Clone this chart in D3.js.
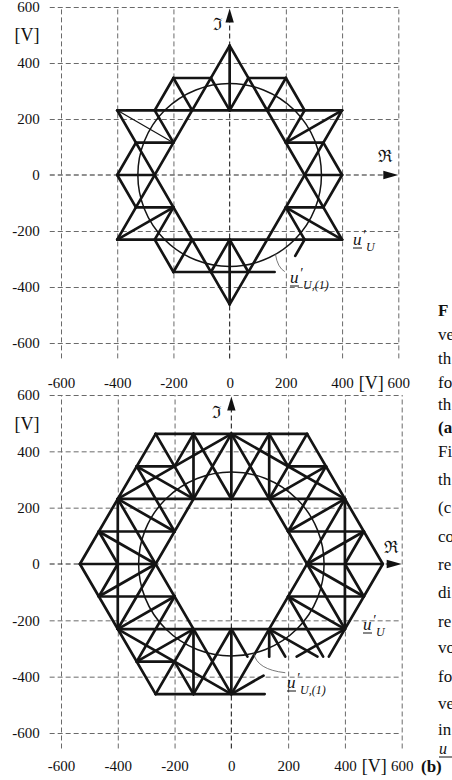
<!DOCTYPE html>
<html>
<head>
<meta charset="utf-8">
<script src="https://cdn.jsdelivr.net/npm/d3@7"></script>
<style>
  html, body { margin: 0; padding: 0; background: #fff; }
  svg { display: block; }
</style>
</head>
<body>
<svg id="fig" width="452" height="780"></svg>
<script>
// ---------------------------------------------------------------
// Axis ticks (V)
const reTicks = [-600, -400, -200, 0, 200, 400, 600];
const imTicks = [-600, -400, -200, 0, 200, 400, 600];

// Voltage steps of the inverter's space-vector lattice (V)
const stepRe = 200 / 3;
const stepIm = 200 / Math.sqrt(3);

// Amplitude of the fundamental u'_U,(1) (V)
const fundamentalAmp = 326.6;

// Trajectory segments, [re1, im1, re2, im2] in lattice steps
// (a) star-shaped trajectory
const starLines = [
  [0, 4, -6, -2], [0, 4, 6, -2], [-6, -2, 6, -2],
  [0, -4, -6, 2], [0, -4, 6, 2], [-6, 2, 6, 2]
];
const aMedians = [
  [0, 4, 0, 2], [-6, -2, -3, -1], [0, -4, 0, -2], [6, -2, 3, -1], [6, 2, 3, 1]
];
const aStartSegment = [[-6, 2, -3, 1]];
const aTipV = [
  [-1, 3, 0, 2], [1, 3, 0, 2], [-5, 1, -3, 1], [-4, 2, -3, 1],
  [-4, -2, -3, -1], [-5, -1, -3, -1], [1, -3, 0, -2], [-1, -3, 0, -2],
  [5, -1, 3, -1], [4, -2, 3, -1], [4, 2, 3, 1], [5, 1, 3, 1]
];
const aBridges = [
  [3, 3, 1, 3], [3, 3, 2, 2], [3, 3, 4, 2],
  [-3, 3, -4, 2], [-3, 3, -2, 2], [-3, 3, -1, 3],
  [-6, 0, -5, -1], [-6, 0, -4, 0], [-6, 0, -5, 1],
  [-3, -3, -1, -3], [-3, -3, -2, -2], [-3, -3, -4, -2],
  [6, 0, 5, 1], [6, 0, 4, 0], [6, 0, 5, -1]
];
const aLastSegments = [[-1, -3, 2.4, -3], [4, -2, 3.5, -2.5]];

// (b) hexagon-shaped trajectory
const bOuterHex = [
  [-4, 4, 4, 4], [4, 4, 8, 0], [-4, -4, -8, 0], [-8, 0, -4, 4]
];
const bInnerHex = [
  [0, 4, 6, 2], [6, 2, 6, -2], [0, -4, -6, -2], [-6, -2, -6, 2], [-6, 2, 0, 4]
];
const bMedians = [
  [0, 4, 0, 2], [-6, 2, -3, 1], [-6, -2, -3, -1], [0, -4, 0, -2], [6, -2, 3, -1], [6, 2, 3, 1]
];
const bLongSteps = [
  [2, 4, 2, 2], [-2, 4, -2, 2], [-5, 3, -2, 2], [-7, 1, -4, 0], [-7, -1, -4, 0],
  [-5, -3, -2, -2], [-2, -4, -2, -2], [7, -1, 4, 0], [7, 1, 4, 0], [5, 3, 2, 2]
];
const bCrossSteps = [
  [-2, 4, 0, 2], [2, 4, 0, 2], [-7, 1, -3, 1], [-5, 3, -3, 1], [-5, -3, -3, -1],
  [-7, -1, -3, -1], [-2, -4, 0, -2], [7, -1, 3, -1], [5, 3, 3, 1], [7, 1, 3, 1]
];
const bCornerSteps = [
  [4, 4, 2, 2], [-4, 4, -2, 2], [-8, 0, -4, 0], [-4, -4, -2, -2], [8, 0, 4, 0]
];
const bEdgeSteps = [
  [3, 3, 5, 3], [-5, 3, -3, 3], [-3, 3, -2, 4], [2, 4, 3, 3], [-7, -1, -6, 0],
  [-6, 0, -7, 1], [-3, -3, -2, -4], [-3, -3, -5, -3], [7, 1, 6, 0], [6, 0, 7, -1]
];
const bLastSegments = [
  [8, 0, 5.15, -2.85], [-4, -4, 1.76, -4], [6, -2, 3.45, -2.85], [0, -4, 1.7, -3.43],
  [2, -2, 2, -2.85], [2, -2, 4.55, -2.85], [0, -2, 0.85, -2.85], [3, -1, 4.85, -2.85],
  [2, -2, 2.85, -2.85]
];

// Caption lines in the right margin
const captionLines = [
  { t: "F", y: 316, b: true }, { t: "ve", y: 340 }, { t: "th", y: 364 }, { t: "fo", y: 388 },
  { t: "th", y: 410 }, { t: "(a", y: 433, b: true }, { t: "Fi", y: 457 }, { t: "th", y: 485 },
  { t: "(c", y: 513 }, { t: "co", y: 542 }, { t: "re", y: 570 }, { t: "di", y: 598 },
  { t: "re", y: 627 }, { t: "vo", y: 653 }, { t: "fo", y: 682 }, { t: "ve", y: 709 },
  { t: "in", y: 735 }
];

// ---------------------------------------------------------------
const svg = d3.select("#fig");
const SERIF = "'Liberation Serif', 'Times New Roman', serif";
const INK = "#141414";

const panels = [
  {
    xr: [61, 398.3], yr: [343, 7],
    thin: aStartSegment,
    thick: [].concat(starLines, aMedians, aTipV, aBridges, aLastSegments),
    xLabelY: 388, vLabelY: 41,
    imSym: [223, 30], reSym: [392, 162],
    uLabel: { x: 353, y: 245 }, u1Label: { x: 290, y: 283 },
    leader: [[163, -283], [170, -330], [196, -345]]
  },
  {
    xr: [61, 401.7], yr: [733, 395],
    thin: [],
    thick: [].concat(starLines, bOuterHex, bInnerHex, bMedians, bLongSteps,
                     bCrossSteps, bCornerSteps, bEdgeSteps, bLastSegments),
    xLabelY: 771, vLabelY: 430,
    imSym: [222, 418], reSym: [398, 553],
    uLabel: { x: 363, y: 630 }, u1Label: { x: 287, y: 688 },
    leader: [[79, -317], [90, -375], [190, -386]]
  }
];

panels.forEach(p => {
  const x = d3.scaleLinear().domain([-600, 600]).range(p.xr);
  const y = d3.scaleLinear().domain([-600, 600]).range(p.yr);
  const g = svg.append("g");

  // dashed grid with tick labels
  const gx = g.append("g")
    .attr("transform", `translate(0,${y(-655)})`)
    .call(d3.axisBottom(x).tickValues(reTicks)
      .tickSize(-(y(-655) - y(600)))
      .tickPadding(p.xLabelY - y(-655) - 11)
      .tickFormat(d => String(d)));
  const gy = g.append("g")
    .attr("transform", `translate(${x(-640)},0)`)
    .call(d3.axisLeft(y).tickValues(imTicks)
      .tickSize(-(x(600) - x(-640)))
      .tickPadding(10)
      .tickFormat(d => String(d)));
  [gx, gy].forEach(a => {
    a.select(".domain").remove();
    a.attr("font-family", SERIF).attr("font-size", 15);
    a.selectAll(".tick line")
      .attr("stroke", "#6a6a6a").attr("stroke-width", 1)
      .attr("stroke-dasharray", "5,3");
    a.selectAll(".tick text").attr("fill", "#111");
    a.selectAll(".tick").filter(d => d === 0).select("line").remove();
  });

  // unit labels
  g.append("text").attr("x", 27).attr("y", p.vLabelY)
    .attr("text-anchor", "middle").attr("font-family", SERIF).attr("font-size", 18)
    .attr("fill", "#111").text("[V]");
  g.append("text").attr("x", (x(400) + x(600)) / 2 + 1).attr("y", p.xLabelY + 1)
    .attr("text-anchor", "middle").attr("font-family", SERIF).attr("font-size", 18)
    .attr("fill", "#111").text("[V]");

  // real and imaginary axes with arrows
  const axisStyle = s => s.attr("stroke", "#222").attr("stroke-width", 1.1).attr("stroke-dasharray", "5,3");
  g.append("line").attr("x1", x(0)).attr("x2", x(0)).attr("y1", y(-655)).attr("y2", y(560)).call(axisStyle);
  g.append("line").attr("x1", x(-640)).attr("x2", x(560)).attr("y1", y(0)).attr("y2", y(0)).call(axisStyle);
  const tipY = y(595), tipX = x(600);
  g.append("path").attr("fill", "#111")
    .attr("d", `M${x(0)},${tipY} L${x(0) - 4.2},${tipY + 14} L${x(0) + 4.2},${tipY + 14} Z`);
  g.append("path").attr("fill", "#111")
    .attr("d", `M${tipX},${y(0)} L${tipX - 15},${y(0) - 4.2} L${tipX - 15},${y(0) + 4.2} Z`);
  g.append("text").attr("x", p.imSym[0]).attr("y", p.imSym[1]).attr("text-anchor", "end")
    .attr("font-family", "'DejaVu Serif', serif").attr("font-size", 17).attr("fill", "#111").text("\u2111");
  g.append("text").attr("x", p.reSym[0]).attr("y", p.reSym[1]).attr("text-anchor", "end")
    .attr("font-family", "'DejaVu Serif', serif").attr("font-size", 17).attr("fill", "#111").text("\u211C");

  // fundamental component
  g.append("ellipse")
    .attr("cx", x(0)).attr("cy", y(0))
    .attr("rx", x(fundamentalAmp) - x(0)).attr("ry", y(0) - y(fundamentalAmp))
    .attr("fill", "none").attr("stroke", INK).attr("stroke-width", 1.5);

  // trajectory of the phase-voltage space vector
  const seg = (sel, w) => sel
    .attr("x1", d => x(d[0] * stepRe)).attr("y1", d => y(d[1] * stepIm))
    .attr("x2", d => x(d[2] * stepRe)).attr("y2", d => y(d[3] * stepIm))
    .attr("stroke", INK).attr("stroke-width", w).attr("stroke-linecap", "round");
  g.append("g").selectAll("line").data(p.thin).join("line").call(seg, 1.2);
  g.append("g").selectAll("line").data(p.thick).join("line").call(seg, 2.7);

  // leader line to the fundamental label
  const L = p.leader;
  g.append("path").attr("fill", "none").attr("stroke", "#555").attr("stroke-width", 0.8)
    .attr("d", `M${x(L[0][0])},${y(L[0][1])} Q${x(L[1][0])},${y(L[1][1])} ${x(L[2][0])},${y(L[2][1])}`);

  // vector labels
  const vecLabel = (pos, sub) => {
    const t = g.append("g").attr("font-family", SERIF).attr("fill", "#111");
    t.append("text").attr("x", pos.x).attr("y", pos.y).attr("font-size", 17)
      .attr("font-style", "italic").text("u");
    t.append("line").attr("x1", pos.x).attr("x2", pos.x + 9).attr("y1", pos.y + 3).attr("y2", pos.y + 3)
      .attr("stroke", "#111").attr("stroke-width", 1);
    t.append("text").attr("x", pos.x + 9.5).attr("y", pos.y - 5).attr("font-size", 14)
      .attr("font-style", "italic").text("\u2032");
    t.append("text").attr("x", pos.x + 13).attr("y", pos.y + 6).attr("font-size", 12)
      .attr("font-style", "italic").text(sub);
  };
  vecLabel(p.uLabel, "U");
  vecLabel(p.u1Label, "U,(1)");
});

// right-margin caption fragment
const cap = svg.append("g").attr("font-family", SERIF).attr("font-size", 17).attr("fill", "#111");
cap.selectAll("text").data(captionLines).join("text")
  .attr("x", 438).attr("y", d => d.y)
  .attr("font-weight", d => d.b ? "bold" : null)
  .text(d => d.t);
cap.append("text").attr("x", 439).attr("y", 754).attr("font-size", 16).attr("font-style", "italic").text("u");
cap.append("line").attr("x1", 439).attr("x2", 452).attr("y1", 757).attr("y2", 757)
  .attr("stroke", "#111").attr("stroke-width", 1);
cap.append("text").attr("x", 421).attr("y", 772).attr("font-weight", "bold").text("(b)");
</script>
</body>
</html>
